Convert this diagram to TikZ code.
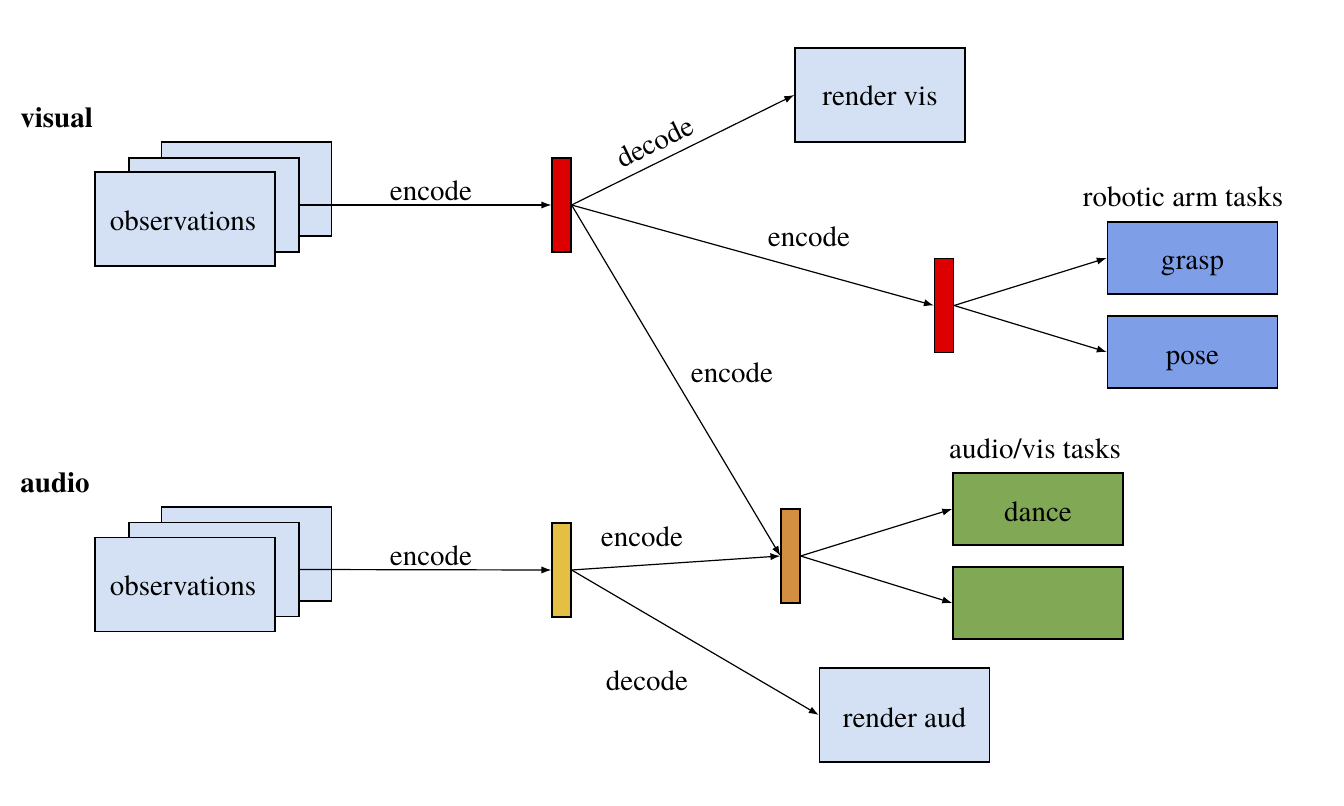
\documentclass[tikz,border=0pt]{standalone}
\usepackage{fontspec}
\setmainfont{texgyretermes}[Extension=.otf, UprightFont=*-regular, BoldFont=*-bold]
\usetikzlibrary{arrows.meta}
\definecolor{lb}{HTML}{D4E1F4}
\definecolor{db}{HTML}{7E9FE8}
\definecolor{gr}{HTML}{80A855}
\definecolor{rd}{HTML}{DD0000}
\definecolor{og}{HTML}{D38F41}
\definecolor{yl}{HTML}{E3C044}
\begin{document}
\begin{tikzpicture}[x=0.5pt,y=-0.5pt,
  every node/.style={font=\fontsize{14.5}{17}\selectfont, inner sep=0pt},
  box/.style={draw=black, line width=0.7pt, minimum width=85pt, minimum height=47pt},
  obs/.style={box, fill=lb},
  task/.style={box, minimum height=36pt},
  bar/.style={draw=black, line width=0.6pt, minimum width=9.5pt, minimum height=47pt},
  conn/.style={line width=0.6pt, -{Latex[length=5pt,width=3.6pt]}},
  lbl/.style={anchor=base},
  head/.style={anchor=base west, font=\fontsize{14.5}{17}\selectfont\bfseries}]
\useasboundingbox (0,0) rectangle (1344,806);

% headings
\node[head] (hv) at (20,128) {visual};
\node[head] (ha) at (20,493) {audio};

% visual stack
\node[obs] (vb) at (246.5,189) {};
\node[obs] (vm) at (214,205) {};
\node[obs, minimum width=90pt] (vf) at (185,219) {};
\node[lbl] (vft) at (183,231) {observations};

% audio stack
\node[obs] (ab) at (246.5,554) {};
\node[obs] (am) at (214,569.5) {};
\node[obs, minimum width=90pt] (af) at (185,584.5) {};
\node[lbl] (aft) at (183,596) {observations};

% bars
\node[bar, fill=rd] (r1) at (561.5,205) {};
\node[bar, fill=rd] (r2) at (944,305.5) {};
\node[bar, fill=og] (o1) at (790.5,556) {};
\node[bar, fill=yl] (y1) at (561.5,570) {};

% output boxes
\node[obs] (rv) at (880,95) {};
\node[lbl] (rvt) at (880,106) {render vis};
\node[obs] (ra) at (904.5,715) {};
\node[lbl] (rat) at (904.5,727) {render aud};
\node[task, fill=db] (gp) at (1192.5,258) {};
\node[lbl] (gpt) at (1192.5,270) {grasp};
\node[task, fill=db] (ps) at (1192.5,352) {};
\node[lbl] (pst) at (1192.5,365) {pose};
\node[task, fill=gr] (dc) at (1038,509) {};
\node[lbl] (dct) at (1038,522) {dance};
\node[task, fill=gr] (g2) at (1038,603) {};

% group labels
\node[lbl] (lra) at (1183,207) {robotic arm tasks};
\node[lbl] (lav) at (1035,459) {audio/vis tasks};

% connectors
\draw[conn] (vm.east) -- (r1.west);
\draw[conn] (am.east) -- (y1.west);
\draw[conn] (r1.east) -- (rv.west);
\draw[conn] (r1.east) -- (r2.west);
\draw[conn] (r1.east) -- (o1.west);
\draw[conn] (y1.east) -- (o1.west);
\draw[conn] (y1.east) -- (ra.west);
\draw[conn] (r2.east) -- (gp.west);
\draw[conn] (r2.east) -- (ps.west);
\draw[conn] (o1.east) -- (dc.west);
\draw[conn] (o1.east) -- (g2.west);

% connector labels
\node[lbl] (e1) at (431,201) {encode};
\node[lbl] (e2) at (431,566) {encode};
\node[rotate=26] (d1) at (655,142) {decode};
\node[lbl] (e3) at (809,247) {encode};
\node[lbl] (e4) at (732,383) {encode};
\node[lbl] (e5) at (642,547) {encode};
\node[lbl] (d2) at (647,690) {decode};
\end{tikzpicture}
\end{document}
